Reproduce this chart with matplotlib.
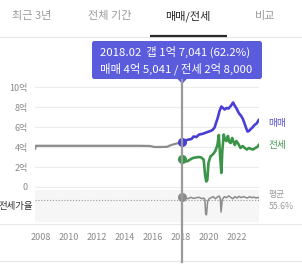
import matplotlib
matplotlib.use("Agg")
import matplotlib.pyplot as plt
from matplotlib.lines import Line2D
from matplotlib.patches import FancyBboxPatch, Polygon
from matplotlib.transforms import blended_transform_factory

plt.rcParams['font.family'] = ['Noto Sans CJK KR', 'DejaVu Sans']

# ---------------- data ----------------
tabs = ['최근 3년', '전체 기간', '매매/전세', '비교']
active_tab = 2

sel_year = 2018 + 1 / 12
sel_label = '2018.02'
sel_sale = 4.5041
sel_jeonse = 2.8
sel_ratio = 62.2
avg_ratio = 55.6

# combined (gray) price before 전세 data, in 억
pre_years = [2007.58, 2007.62, 2008.0, 2009.0, 2010.0, 2011.0, 2012.0, 2013.0, 2014.0,
             2015.0, 2015.8, 2016.1, 2016.6, 2017.0, 2017.3, 2017.7, 2018.08]
pre_vals = [3.85, 4.12, 4.12, 4.12, 4.12, 4.12, 4.12, 4.12, 4.12,
            4.12, 4.1, 4.0, 4.0, 4.02, 4.2, 4.35, 4.5]

sale_years = [2018.08, 2018.3, 2018.55, 2018.75, 2018.9, 2019.1, 2019.3, 2019.5, 2019.7,
              2019.9, 2020.1, 2020.25, 2020.4, 2020.5, 2020.62, 2020.75, 2020.88,
              2021.0, 2021.12, 2021.25, 2021.4, 2021.55, 2021.65, 2021.72, 2021.85,
              2021.95, 2022.05, 2022.15, 2022.3, 2022.42, 2022.55, 2022.65, 2022.75,
              2022.85, 2022.95, 2023.1, 2023.25, 2023.4, 2023.55]
sale_vals = [4.55, 4.65, 4.75, 4.8, 5.05, 5.0, 5.25, 5.3, 5.4,
             5.5, 5.6, 5.7, 5.95, 6.4, 6.9, 7.6, 8.05,
             7.9, 7.75, 7.9, 7.85, 8.1, 8.3, 8.45, 8.1,
             7.9, 7.6, 7.35, 7.1, 6.8, 6.3, 5.9, 5.55,
             5.6, 5.75, 5.95, 6.2, 6.35, 6.7]

jeonse_years = [2018.08, 2018.25, 2018.45, 2018.65, 2018.85, 2019.05, 2019.25, 2019.45,
                2019.62, 2019.72, 2019.8, 2019.88, 2019.96, 2020.1, 2020.3, 2020.45,
                2020.6, 2020.7, 2020.8, 2020.88, 2020.95, 2021.05, 2021.15, 2021.25,
                2021.35, 2021.45, 2021.55, 2021.65, 2021.75, 2021.85, 2021.95, 2022.1,
                2022.25, 2022.4, 2022.55, 2022.7, 2022.85, 2023.0, 2023.15, 2023.3,
                2023.45, 2023.55]
jeonse_vals = [2.83, 2.6, 2.57, 2.75, 2.9, 2.95, 3.0, 2.95,
               2.73, 1.2, 0.55, 0.7, 2.4, 3.05, 3.3, 3.6,
               4.2, 5.2, 3.0, 1.4, 3.6, 5.25, 4.7, 4.6,
               5.1, 4.5, 4.4, 4.9, 4.5, 4.2, 4.6, 4.3,
               3.9, 4.1, 3.9, 3.75, 3.9, 3.8, 3.75, 3.9,
               4.0, 4.2]

ratio_years = [2018.08, 2018.3, 2018.5, 2018.7, 2018.9, 2019.1, 2019.3, 2019.5,
               2019.62, 2019.7, 2019.76, 2019.82, 2019.9, 2020.0, 2020.15, 2020.3,
               2020.45, 2020.6, 2020.72, 2020.8, 2020.86, 2020.95, 2021.1, 2021.25,
               2021.4, 2021.55, 2021.7, 2021.85, 2022.0, 2022.15, 2022.3, 2022.45,
               2022.6, 2022.75, 2022.9, 2023.05, 2023.2, 2023.35, 2023.5, 2023.55]
ratio_vals = [62.2, 61, 58, 62, 59, 61, 62, 58,
              60, 57, 15, 12, 50, 58, 61, 64,
              58, 63, 66, 60, 20, 56, 64, 61,
              66, 62, 58, 64, 60, 65, 61, 64,
              62, 60, 64, 61, 63, 60, 62, 61]

y_ticks = [0, 2, 4, 6, 8, 10]
y_ticklabels = ['0', '2억', '4억', '6억', '8억', '10억']
x_ticks = [2008, 2010, 2012, 2014, 2016, 2018, 2020, 2022]

# ---------------- colours ----------------
C_SALE = '#4a3fd4'
C_JEONSE = '#3b9447'
C_GRAY = '#8c8c8c'
C_TIP = '#5a5cdc'
C_TICK = '#8a8a8a'

W, H = 302, 264
fig = plt.figure(figsize=(W / 100, H / 100), dpi=100)

def fx(px):
    return px / W

def fy(py):
    return 1 - py / H

# overlay axes in pixel coordinates (for UI chrome)
ov = fig.add_axes([0, 0, 1, 1], zorder=0)
ov.set_xlim(0, W)
ov.set_ylim(H, 0)
ov.axis('off')

# tabs
tab_x = [32, 110, 188, 265]
for i, (t, x) in enumerate(zip(tabs, tab_x)):
    ov.text(x, 16, t, ha='center', va='center', fontsize=8,
            color='#222222' if i == active_tab else '#9a9a9a',
            fontweight='medium' if i == active_tab else 'normal')
ov.plot([0, W], [37, 37], color='#e6e6e6', lw=0.8)
ov.plot([150, 227], [35.5, 35.5], color='#2a2a2a', lw=1.6, solid_capstyle='butt')

# separators
ov.plot([0, W], [224, 224], color='#e8e8e8', lw=0.8)
ov.plot([0, W], [261, 261], color='#e8e8e8', lw=0.8)

# ---------------- top panel ----------------
ax = fig.add_axes([fx(35), fy(190), fx(224), (190 - 80) / H], zorder=2)
ax.patch.set_alpha(0)
ax.set_xlim(2007.57, 2023.57)
ax.set_ylim(-0.3, 10.7)
for s in ax.spines.values():
    s.set_visible(False)
ax.set_yticks(y_ticks)
ax.set_yticklabels(y_ticklabels)
ax.tick_params(axis='y', length=0, pad=5, labelsize=6.5, labelcolor=C_TICK)
ax.set_xticks([])
for v in y_ticks:
    ax.axhline(v, color='#ececec', lw=0.8, zorder=0)

ax.plot(pre_years, pre_vals, color=C_GRAY, lw=1.6, solid_joinstyle='round', zorder=3)
ax.plot(jeonse_years, jeonse_vals, color=C_JEONSE, lw=1.9, solid_joinstyle='round', zorder=3)
ax.plot(sale_years, sale_vals, color=C_SALE, lw=1.9, solid_joinstyle='round', zorder=4)

ax.plot([sel_year], [sel_sale], 'o', color=C_SALE, ms=5.5, zorder=6, clip_on=False)
ax.plot([sel_year], [sel_jeonse], 'o', color=C_JEONSE, ms=5.5, zorder=6, clip_on=False)

ax.annotate('매매', (sale_years[-1], sale_vals[-1]), xytext=(7, -2), textcoords='offset points',
            ha='left', va='center', fontsize=7, color='#5b52c8', annotation_clip=False)
ax.annotate('전세', (jeonse_years[-1], jeonse_vals[-1]), xytext=(7, 0), textcoords='offset points',
            ha='left', va='center', fontsize=7, color='#4a9a55', annotation_clip=False)

# ---------------- bottom panel (전세가율) ----------------
bx = fig.add_axes([fx(35), fy(222), fx(224), (222 - 190) / H], zorder=1)
bx.set_facecolor('#f6f6f6')
bx.set_xlim(ax.get_xlim())
bx.set_ylim(-8.4, 83)
for s in bx.spines.values():
    s.set_visible(False)
bx.set_yticks([])
bx.set_xticks(x_ticks)
bx.set_xticklabels([str(x) for x in x_ticks])
bx.tick_params(axis='x', length=0, pad=8, labelsize=6.5, labelcolor=C_TICK)
bx.axhline(avg_ratio, color='#9a9a9a', lw=0.8, ls=(0, (1, 1.6)), zorder=1)
bx.plot(ratio_years, ratio_vals, color=C_GRAY, lw=1.1, solid_joinstyle='round', zorder=3)
bx.plot([sel_year], [sel_ratio], 'o', color=C_GRAY, ms=5.5, zorder=6, clip_on=False)
bx.annotate('평균', (bx.get_xlim()[1], avg_ratio), xytext=(7, 4), textcoords='offset points',
            ha='left', va='center', fontsize=6.3, color='#9a9a9a', annotation_clip=False)
bx.annotate(f'{avg_ratio}%', (bx.get_xlim()[1], avg_ratio), xytext=(7, -5), textcoords='offset points',
            ha='left', va='center', fontsize=6.3, color='#9a9a9a', annotation_clip=False)
ov.text(33, 206, '전세가율', ha='right', va='center', fontsize=6.8, color='#333333')

# ---------------- selection line & tooltip ----------------
tr = blended_transform_factory(ax.transData, fig.transFigure)
fig.add_artist(Line2D([sel_year, sel_year], [fy(80), fy(262)], transform=tr,
                      color='#9a9a9a', lw=1.6, zorder=5))

fig.canvas.draw()
px_sel = ax.transData.transform((sel_year, 0))[0]

box = FancyBboxPatch((92, 41), 170, 38, boxstyle='round,pad=0,rounding_size=2.5',
                     facecolor=C_TIP, edgecolor='none', zorder=10)
ov.add_patch(box)
ov.add_patch(Polygon([[px_sel - 5, 78.5], [px_sel + 5, 78.5], [px_sel, 84]],
                     closed=True, facecolor=C_TIP, edgecolor='none', zorder=10))
line1 = f'{sel_label}  갭 1억 7,041 ({sel_ratio}%)'
line2 = '매매 4억 5,041 / 전세 2억 8,000'
ov.text(100, 52, line1, ha='left', va='center', fontsize=8.2, color='white', zorder=11)
ov.text(100, 68.5, line2, ha='left', va='center', fontsize=8.2, color='white', zorder=11)

fig.savefig('out.png', dpi=100)
